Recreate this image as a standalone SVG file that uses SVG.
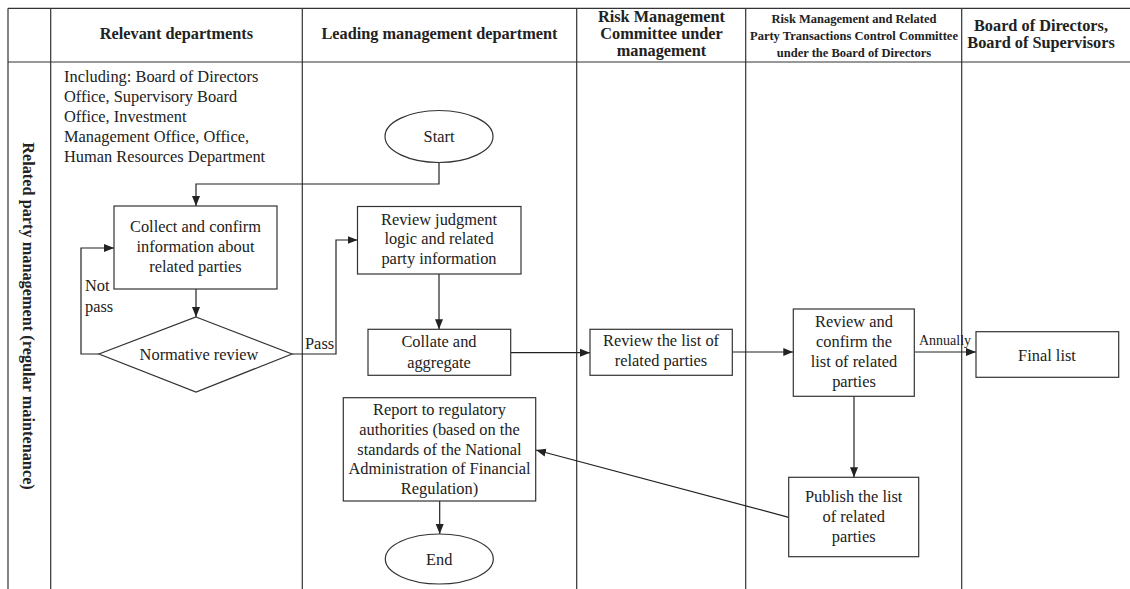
<svg xmlns="http://www.w3.org/2000/svg" width="1130" height="589" viewBox="0 0 1130 589">
<style>
text{font-family:"Liberation Serif","Times New Roman",serif;fill:#222;}
.h{font-weight:bold;font-size:16.3px;text-anchor:middle;}
.hs{font-weight:bold;font-size:12.5px;text-anchor:middle;}
.t{font-size:16.4px;text-anchor:middle;}
.l{font-size:16.4px;}
.grid{stroke:#333;stroke-width:1.2;fill:none;}
.box{fill:#fff;stroke:#333;stroke-width:1.2;}
.c{fill:none;stroke:#222;stroke-width:1.2;}
</style>
<defs>
<marker id="a" markerUnits="userSpaceOnUse" markerWidth="10" markerHeight="10" viewBox="0 0 10 10" refX="10" refY="5" orient="auto">
<path d="M0,1 L10,5 L0,9 Z" fill="#222"/>
</marker>
</defs>
<rect width="1130" height="589" fill="#fff"/>
<g id="table">
<path class="grid" d="M8,8.3 H1130 M8,62 H1130 M8,8.3 V589 M50.7,8.3 V589 M302.3,8.3 V589 M576.7,8.3 V589 M745.7,8.3 V589 M961.7,8.3 V589"/>
<text class="h" x="176.5" y="39">Relevant departments</text>
<text class="h" x="439.5" y="39">Leading management department</text>
<text class="h" x="661.5" y="22">Risk Management</text>
<text class="h" x="661.5" y="39">Committee under</text>
<text class="h" x="661.5" y="56">management</text>
<text class="hs" x="854" y="22.5">Risk Management and Related</text>
<text class="hs" x="854" y="40">Party Transactions Control Committee</text>
<text class="hs" x="854" y="56.5">under the Board of Directors</text>
<text class="h" x="1041" y="30.5">Board of Directors,</text>
<text class="h" x="1041" y="48">Board of Supervisors</text>
<text class="h" transform="translate(23,316) rotate(90)" x="0" y="0">Related party management (regular maintenance)</text>
</g>
<g id="note">
<text class="l" x="64" y="82">Including: Board of Directors</text>
<text class="l" x="64" y="102">Office, Supervisory Board</text>
<text class="l" x="64" y="122">Office, Investment</text>
<text class="l" x="64" y="142">Management Office, Office,</text>
<text class="l" x="64" y="162">Human Resources Department</text>
</g>
<g id="connectors">
<path class="c" d="M439,162.5 V184 H196 V206" marker-end="url(#a)"/>
<path class="c" d="M196,289 V317" marker-end="url(#a)"/>
<path class="c" d="M99,354 H81 V248 H114" marker-end="url(#a)"/>
<path class="c" d="M292,354 H336 V240 H357.5" marker-end="url(#a)"/>
<path class="c" d="M439,274 V329.3" marker-end="url(#a)"/>
<path class="c" d="M510.7,352.7 H590" marker-end="url(#a)"/>
<path class="c" d="M732.3,352 H793.3" marker-end="url(#a)"/>
<path class="c" d="M914.3,352 H976" marker-end="url(#a)"/>
<path class="c" d="M854,396.3 V477.3" marker-end="url(#a)"/>
<path class="c" d="M788.7,517.3 L536,450" marker-end="url(#a)"/>
<path class="c" d="M439.7,501 V534" marker-end="url(#a)"/>
<text class="l" x="85" y="291">Not</text>
<text class="l" x="85" y="312">pass</text>
<text class="l" x="305" y="349">Pass</text>
<text x="919" y="344.5" style="font-size:14px">Annually</text>
</g>
<g id="start">
<ellipse class="box" cx="439" cy="136.5" rx="54" ry="26"/>
<text class="t" x="439" y="142">Start</text>
</g>
<g id="collect">
<rect class="box" x="114" y="206" width="163" height="83"/>
<text class="t" x="195.5" y="232">Collect and confirm</text>
<text class="t" x="195.5" y="252">information about</text>
<text class="t" x="195.5" y="272">related parties</text>
</g>
<g id="normative">
<polygon class="box" points="196,317 292,354 196,392 99,354"/>
<text class="t" x="199" y="360">Normative review</text>
</g>
<g id="review-logic">
<rect class="box" x="357.5" y="206.5" width="163.5" height="67.5"/>
<text class="t" x="439" y="224.5">Review judgment</text>
<text class="t" x="439" y="244">logic and related</text>
<text class="t" x="439" y="264">party information</text>
</g>
<g id="collate">
<rect class="box" x="368" y="329.3" width="142.7" height="46"/>
<text class="t" x="439" y="347">Collate and</text>
<text class="t" x="439" y="367.5">aggregate</text>
</g>
<g id="review-list">
<rect class="box" x="590" y="329.3" width="142.3" height="46"/>
<text class="t" x="661" y="345.5">Review the list of</text>
<text class="t" x="661" y="366">related parties</text>
</g>
<g id="confirm">
<rect class="box" x="793.3" y="309" width="121" height="87.3"/>
<text class="t" x="854" y="327">Review and</text>
<text class="t" x="854" y="347">confirm the</text>
<text class="t" x="854" y="366.5">list of related</text>
<text class="t" x="854" y="386.5">parties</text>
</g>
<g id="final">
<rect class="box" x="976" y="331.7" width="142.7" height="45.6"/>
<text class="t" x="1047" y="360.5">Final list</text>
</g>
<g id="publish">
<rect class="box" x="788.7" y="477.3" width="130" height="79.4"/>
<text class="t" x="853.7" y="501.5">Publish the list</text>
<text class="t" x="853.7" y="521.5">of related</text>
<text class="t" x="853.7" y="541.5">parties</text>
</g>
<g id="report">
<rect class="box" x="343.3" y="397.7" width="192.4" height="103.3"/>
<text class="t" x="439.5" y="415">Report to regulatory</text>
<text class="t" x="439.5" y="435">authorities (based on the</text>
<text class="t" x="439.5" y="454.5">standards of the National</text>
<text class="t" x="439.5" y="474">Administration of Financial</text>
<text class="t" x="439.5" y="494">Regulation)</text>
</g>
<g id="end">
<ellipse class="box" cx="439.3" cy="559" rx="54" ry="25"/>
<text class="t" x="439.3" y="564.5">End</text>
</g>
</svg>
